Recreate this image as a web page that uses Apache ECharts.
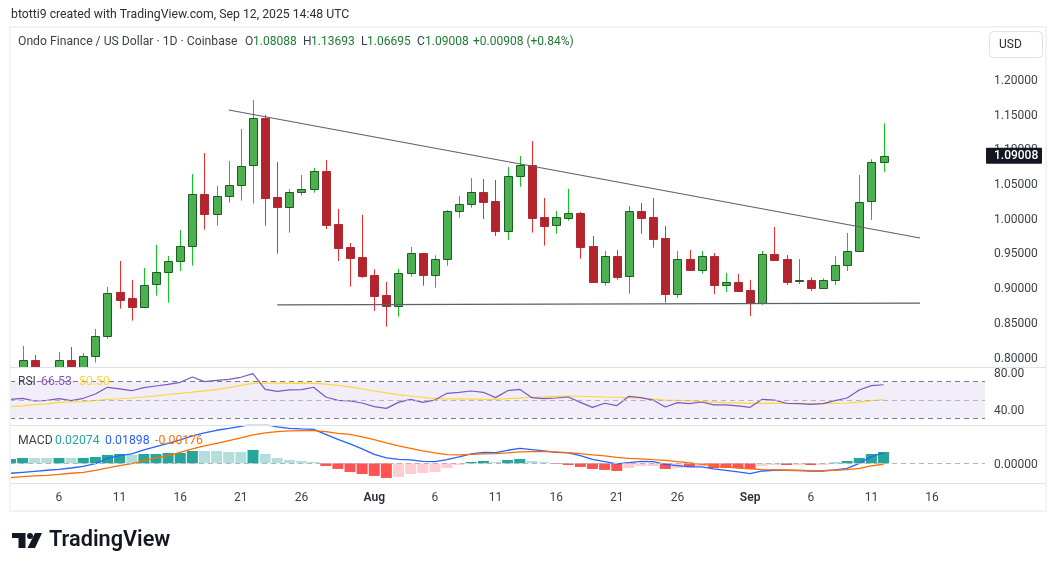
<!DOCTYPE html>
<html lang="en">
<head>
    <meta charset="UTF-8">
    <title>Ondo Finance / US Dollar</title>
    <script src="https://cdn.jsdelivr.net/npm/echarts@6/dist/echarts.min.js"></script>
    <style>
        html, body {margin: 0; padding: 0; background: #fff}
        #chart {width: 1057px; height: 571px}
    </style>
</head>
<body>
<div id="chart"></div>
<script>
    const FONT = 'Roboto, sans-serif'

    // daily candles from Jul 2: open, high, low, close
    const candles = [
        [0.760, 0.8044, 0.755, 0.775], [0.775, 0.8159, 0.770, 0.7952], [0.7952, 0.8029, 0.770, 0.775], [0.775, 0.785, 0.770, 0.780],
        [0.780, 0.8072, 0.770, 0.7952], [0.7952, 0.8144, 0.775, 0.780], [0.780, 0.8058, 0.775, 0.8010], [0.8010, 0.8404, 0.7919, 0.8308],
        [0.8308, 0.9009, 0.8265, 0.8918], [0.8932, 0.9384, 0.8697, 0.8827], [0.8846, 0.9110, 0.8524, 0.8726], [0.8726, 0.9283, 0.8711, 0.9033],
        [0.9048, 0.9615, 0.8884, 0.9221], [0.9221, 0.9456, 0.8784, 0.9379], [0.9379, 0.9831, 0.9240, 0.9596], [0.9596, 1.0638, 0.9317, 1.0345],
        [1.0345, 1.0941, 0.9836, 1.0066], [1.0066, 1.0465, 0.9893, 1.0316], [1.0316, 1.0826, 1.0225, 1.0475], [1.0475, 1.1287, 1.0254, 1.0749],
        [1.0763, 1.1705, 1.0211, 1.1441], [1.1445, 1.1489, 0.9893, 1.0297], [1.0302, 1.0811, 0.9490, 1.0167], [1.0167, 1.0422, 0.9793, 1.0374],
        [1.0374, 1.0624, 1.0326, 1.0417], [1.0417, 1.0725, 1.0369, 1.0677], [1.0677, 1.0840, 0.9845, 0.9908], [0.9912, 1.0134, 0.9384, 0.9576],
        [0.9581, 0.9643, 0.9014, 0.9432], [0.9437, 1.0047, 0.9143, 0.9172],
        // Aug
        [0.9177, 0.9264, 0.8663, 0.8884], [0.8889, 0.9081, 0.8437, 0.8740], [0.8740, 0.9268, 0.8581, 0.9206], [0.9206, 0.9586, 0.9158, 0.9494],
        [0.9494, 0.9494, 0.9028, 0.9187], [0.9187, 0.9465, 0.8999, 0.9408], [0.9408, 1.0119, 0.9316, 1.0100], [1.0100, 1.0321, 1.0008, 1.0201],
        [1.0201, 1.0580, 1.0152, 1.0374], [1.0374, 1.0566, 0.9989, 1.0239], [1.0244, 1.0551, 0.9744, 0.9821], [0.9821, 1.0739, 0.9686, 1.0604],
        [1.0604, 1.0897, 1.0455, 1.0763], [1.0763, 1.1113, 0.9792, 1.0008], [1.0013, 1.0292, 0.9605, 0.9893], [0.9898, 1.0104, 0.9778, 1.0013],
        [1.0008, 1.0422, 0.9965, 1.0071], [1.0071, 1.0090, 0.9417, 0.9590], [0.9595, 0.9744, 0.9071, 0.9086], [0.9086, 0.9528, 0.9028, 0.9451],
        [0.9451, 0.9542, 0.9115, 0.9158], [0.9163, 1.0176, 0.8913, 1.0100], [1.0100, 1.0220, 0.9778, 1.0008], [1.0013, 1.0292, 0.9576, 0.9706],
        [0.9710, 0.9888, 0.8783, 0.8913], [0.8913, 0.9528, 0.8855, 0.9407], [0.9407, 0.9542, 0.9239, 0.9259], [0.9259, 0.9528, 0.9201, 0.9451],
        [0.9451, 0.9499, 0.8908, 0.9042], [0.9042, 0.9210, 0.8937, 0.9076], [0.9076, 0.9196, 0.8956, 0.8956],
        // Sep
        [0.8961, 0.9110, 0.8591, 0.8778], [0.8778, 0.9528, 0.8749, 0.9480], [0.9480, 0.9874, 0.9383, 0.9403], [0.9407, 0.9470, 0.9038, 0.9086],
        [0.9100, 0.9412, 0.9052, 0.9110], [0.9105, 0.9148, 0.8951, 0.8999], [0.8999, 0.9134, 0.8999, 0.9105], [0.9105, 0.9455, 0.9038, 0.9321],
        [0.9321, 0.9787, 0.9239, 0.9523], [0.9523, 1.0623, 0.9523, 1.0229], [1.0243, 1.0849, 0.9974, 1.0806], [1.08088, 1.13693, 1.06695, 1.09008]
    ]

    const rsi = [
        50.8, 51.9, 49, 49.7, 51.5, 49.3, 51.9, 56.6, 63.8, 62, 60.1, 63.4, 65.2, 67, 69.2, 74.9, 69.9, 71.3, 72.4, 74.6,
        78.5, 61.6, 59.4, 60.9, 61.2, 63.8, 53.3, 49.7, 49, 46.8,
        42.9, 41, 47.5, 50.8, 47.5, 50, 57.3, 58.4, 59.8, 58.4, 52.6, 60.1, 61.6, 52.6, 51.5, 52.2, 53.3, 47.5, 42.1, 46.5,
        43.9, 54, 52.6, 50, 42.5, 47.2, 46.1, 47.9, 44.7, 44.7, 43.6,
        42.1, 50.8, 50, 46.5, 46.1, 45.4, 46.1, 49.3, 52.2, 60.9, 65.6, 66.53
    ]
    const rsiMa = [
        42.9, 43.7, 45, 45.9, 47.5, 47.9, 48.3, 49.3, 50.8, 51.4, 52.2, 53.3, 54.6, 56, 57.3, 58.6, 60, 61.2, 63.5, 65.8,
        68.1, 68.2, 68.2, 68.1, 68.2, 68, 67.2, 66, 64.3, 62,
        59.8, 57.8, 55.5, 54.4, 53, 51.5, 51.2, 51.2, 51, 50.8, 50.8, 51.5, 52, 53, 53.4, 54, 54.4, 54.1, 53.8, 53.3,
        53, 52.6, 52.2, 51, 49.9, 49.7, 49, 48.3, 47.8, 47.2, 46.9,
        46.5, 46.5, 46.5, 46.5, 46.4, 46.2, 46.1, 46.3, 46.8, 47.8, 49.3, 50.5
    ]

    const macd = [
        -0.0183, -0.0165, -0.0147, -0.0128, -0.011, -0.0086, -0.0055, -0.0006, 0.0092, 0.0141,
        0.0171, 0.0245, 0.0306, 0.0367, 0.0428, 0.0502, 0.0557, 0.0606, 0.0642, 0.0679,
        0.0722, 0.0716, 0.0667, 0.0642, 0.063, 0.0624, 0.0532, 0.044, 0.0355, 0.0263,
        0.0165, 0.0098, 0.0073, 0.0061, 0.0037, 0.0031, 0.0067, 0.0116, 0.0171, 0.0202,
        0.0196, 0.0239, 0.0275, 0.0251, 0.0226, 0.0202, 0.019, 0.0141, 0.0073, 0.0031,
        -0.0012, 0.0012, 0.0037, 0.0031, -0.0018, -0.0043, -0.0067, -0.0067, -0.0104, -0.0128, -0.0159,
        -0.019, -0.0141, -0.0128, -0.0128, -0.0135, -0.0141, -0.0141, -0.0122, -0.0092, 0, 0.0122, 0.01898
    ]
    const signal = [
        -0.0263, -0.0245, -0.0232, -0.022, -0.0202, -0.0183, -0.0165, -0.0128, -0.0086, -0.0043,
        -0.0006, 0.0049, 0.0098, 0.0141, 0.0202, 0.0263, 0.0318, 0.0367, 0.0416, 0.0465,
        0.052, 0.0557, 0.0581, 0.0593, 0.0599, 0.0599, 0.0581, 0.055, 0.0532, 0.0483,
        0.0434, 0.0373, 0.0318, 0.0275, 0.0226, 0.019, 0.0159, 0.0153, 0.0165, 0.0171,
        0.0177, 0.019, 0.0208, 0.0214, 0.0214, 0.0208, 0.0196, 0.0177, 0.0153, 0.0135,
        0.011, 0.0092, 0.008, 0.0067, 0.0055, 0.0031, 0.0006, -0.0018, -0.0043, -0.0067, -0.0086,
        -0.0104, -0.0116, -0.0122, -0.0128, -0.0128, -0.0135, -0.0135, -0.0128, -0.0116, -0.0092, -0.0049, -0.00176
    ]
    // histogram value + colour key
    const hist = [
        [0.008, 'd'], [0.0098, 'd'], [0.0098, 'l'], [0.0098, 'l'], [0.0098, 'd'], [0.0098, 'l'], [0.0098, 'd'], [0.0116, 'd'], [0.0153, 'd'], [0.0171, 'd'],
        [0.0153, 'l'], [0.0171, 'd'], [0.0171, 'd'], [0.019, 'd'], [0.019, 'd'], [0.0226, 'd'], [0.0226, 'l'], [0.0226, 'l'], [0.0208, 'l'], [0.0208, 'l'],
        [0.0245, 'd'], [0.0171, 'l'], [0.0098, 'l'], [0.0061, 'l'], [0.0043, 'l'], [0.0024, 'l'], [-0.0049, 'r'], [-0.0104, 'r'], [-0.0159, 'r'], [-0.0196, 'r'],
        [-0.0232, 'r'], [-0.0269, 'r'], [-0.0251, 'p'], [-0.0196, 'p'], [-0.0177, 'p'], [-0.0159, 'p'], [-0.0086, 'p'], [-0.0031, 'p'], [0.0024, 'd'], [0.0043, 'd'],
        [0.0024, 'l'], [0.0061, 'd'], [0.008, 'd'], [0.0043, 'l'], [0.0024, 'l'], [-0.0012, 'r'], [-0.0031, 'r'], [-0.0067, 'r'], [-0.0104, 'r'], [-0.0122, 'r'],
        [-0.0141, 'r'], [-0.0086, 'p'], [-0.0049, 'p'], [-0.0049, 'p'], [-0.0104, 'r'], [-0.0086, 'p'], [-0.0067, 'r'], [-0.0049, 'p'], [-0.0086, 'r'], [-0.0086, 'r'], [-0.0086, 'r'],
        [-0.0104, 'r'], [-0.0049, 'p'], [-0.0031, 'p'], [-0.0031, 'r'], [-0.0031, 'p'], [-0.0031, 'r'], [-0.0031, 'p'], [0.0012, 'd'], [0.0043, 'd'], [0.0098, 'd'], [0.0171, 'd'], [0.02074, 'd']
    ]
    const histColors = {d: '#26a69a', l: '#b2dfdb', r: '#ff5252', p: '#ffcdd2'}

    // day index (0 = Jul 2) => time axis label
    const dayLabels = {4: '6', 9: '11', 14: '16', 19: '21', 24: '26', 30: '{b|Aug}', 35: '6', 40: '11', 45: '16', 50: '21', 55: '26', 61: '{b|Sep}', 66: '6', 71: '11', 76: '16'}

    // hand drawn trend lines [day index, price]
    const trendTop = [[18.0, 1.156], [75.01, 0.9715]]
    const trendBottom = [[22.0, 0.875], [75.01, 0.8778]]

    const xMin = -0.04
    const xMax = 80.37
    const withDay = arr => arr.map((v, i) => [i, v])

    function xAxis(index, showLabels) {
        return {
            type: 'value',
            gridIndex: index,
            min: xMin,
            max: xMax,
            splitLine: {show: false},
            axisLine: {show: false},
            axisTick: {show: false},
            axisLabel: showLabels ? {
                customValues: Object.keys(dayLabels).map(Number),
                formatter: v => dayLabels[v],
                color: '#3c3f48',
                fontFamily: FONT,
                fontSize: 12,
                margin: 9,
                rich: {b: {fontFamily: FONT, fontSize: 12, fontWeight: 600, color: '#2a2e39'}}
            } : {show: false}
        }
    }

    function yAxis(index, min, max, ticks, digits) {
        return {
            type: 'value',
            gridIndex: index,
            position: 'right',
            min: min,
            max: max,
            scale: true,
            splitLine: {show: false},
            axisLine: {show: true, lineStyle: {color: '#d6d7e0'}},
            axisTick: {show: false},
            axisLabel: {
                customValues: ticks,
                // rich token, plain labels ignore the padding that moves them down a little
                formatter: v => '{p|' + v.toFixed(digits) + '}',
                margin: 9,
                rich: {p: {color: '#3c3f48', fontFamily: FONT, fontSize: 12, padding: [3, 0, 0, 0]}}
            }
        }
    }

    // candles as custom series: wick and body take different colours, and half hidden ones get clipped
    function renderCandle(params, api) {
        let open = api.value(1), close = api.value(4)
        let up = close >= open
        let x = Math.round(api.coord([api.value(0), open])[0])
        let yHigh = api.coord([0, api.value(2)])[1]
        let yLow = api.coord([0, api.value(3)])[1]
        let yTop = Math.round(api.coord([0, Math.max(open, close)])[1])
        let yBottom = Math.round(api.coord([0, Math.min(open, close)])[1])
        return {
            type: 'group',
            children: [{
                type: 'line',
                shape: {x1: x + 0.5, y1: yHigh, x2: x + 0.5, y2: yLow},
                style: {stroke: up ? '#0fc71f' : '#ee2a2a', lineWidth: 1}
            }, {
                type: 'rect',
                shape: {x: x - 3.5, y: yTop + 0.5, width: 8, height: Math.max(yBottom - yTop, 1)},
                style: {fill: up ? '#4caf50' : '#b2252f', stroke: up ? '#1b5e20' : '#b22833', lineWidth: 1}
            }]
        }
    }

    let myChart = echarts.init(document.getElementById('chart'), null, {renderer: 'canvas'})

    let option = {
        animation: false,
        backgroundColor: '#fff',
        grid: [
            {left: 10, right: 72, top: 28, height: 339},
            {left: 10, right: 72, top: 367.5, height: 57.8},
            {left: 10, right: 72, top: 425.3, height: 58}
        ],
        xAxis: [xAxis(0, false), xAxis(1, false), xAxis(2, true)],
        yAxis: [
            yAxis(0, 0.78559, 1.27423, [0.8, 0.85, 0.9, 0.95, 1.0, 1.05, 1.1, 1.15, 1.2], 5),
            yAxis(1, 22.7, 85.19, [40, 80], 2),
            yAxis(2, -0.0367, 0.0697, [0], 5)
        ],
        series: [
            {
                name: 'ONDOUSD',
                type: 'custom',
                xAxisIndex: 0,
                yAxisIndex: 0,
                clip: true,
                renderItem: renderCandle,
                encode: {x: 0, y: [1, 2, 3, 4]},
                data: candles.map((c, i) => [i].concat(c))
            },
            {type: 'line', name: 'trend top', xAxisIndex: 0, yAxisIndex: 0, data: trendTop, symbol: 'none', z: 4, lineStyle: {color: '#5d606b', width: 1.2}},
            {type: 'line', name: 'trend bottom', xAxisIndex: 0, yAxisIndex: 0, data: trendBottom, symbol: 'none', z: 4, lineStyle: {color: '#5d606b', width: 1.2}},
            {
                type: 'line',
                name: 'RSI',
                xAxisIndex: 1,
                yAxisIndex: 1,
                data: withDay(rsi),
                symbol: 'none',
                z: 4,
                lineStyle: {color: '#7e57c2', width: 1.2},
                markArea: {silent: true, itemStyle: {color: 'rgba(126,87,194,0.1)'}, data: [[{yAxis: 70}, {yAxis: 30}]]},
                markLine: {
                    silent: true,
                    symbol: 'none',
                    label: {show: false},
                    data: [
                        {yAxis: 70, lineStyle: {color: '#787b86', type: [5, 4], width: 1}},
                        {yAxis: 50, lineStyle: {color: '#b2b5be', type: [5, 4], width: 1}},
                        {yAxis: 30, lineStyle: {color: '#787b86', type: [5, 4], width: 1}}
                    ]
                }
            },
            {type: 'line', name: 'RSI MA', xAxisIndex: 1, yAxisIndex: 1, data: withDay(rsiMa), symbol: 'none', z: 3, lineStyle: {color: '#fdd835', width: 1.2}},
            {
                type: 'bar',
                name: 'Histogram',
                xAxisIndex: 2,
                yAxisIndex: 2,
                barWidth: 11,
                clip: true,
                data: hist.map((h, i) => ({value: [i, h[0]], itemStyle: {color: histColors[h[1]]}})),
                markLine: {
                    silent: true,
                    symbol: 'none',
                    label: {show: false},
                    data: [{yAxis: 0, lineStyle: {color: '#b2b5be', type: [5, 4], width: 1}}]
                }
            },
            {type: 'line', name: 'MACD', xAxisIndex: 2, yAxisIndex: 2, data: withDay(macd), symbol: 'none', z: 4, lineStyle: {color: '#2962ff', width: 1.3}},
            {type: 'line', name: 'Signal', xAxisIndex: 2, yAxisIndex: 2, data: withDay(signal), symbol: 'none', z: 4, lineStyle: {color: '#ff6d00', width: 1.3}}
        ]
    }
    myChart.setOption(option)

    // header, legends, frame and logo
    function text(x, y, str, fill, size, weight) {
        return {
            type: 'text',
            z: 20,
            style: {x: x, y: y, text: str, fill: fill, font: (weight || 400) + ' ' + (size || 12) + 'px ' + FONT, textVerticalAlign: 'middle'}
        }
    }
    function hline(y, color) {
        return {type: 'line', z: 10, shape: {x1: 10, y1: y, x2: 1046, y2: y}, style: {stroke: color || '#e0e1ea', lineWidth: 1}}
    }

    const GREEN = '#1e7b34'
    let lastY = myChart.convertToPixel({yAxisIndex: 0}, 1.09008)
    myChart.setOption({
        graphic: [
            // the first histogram bar sticks out left of the pane
            {type: 'rect', z: 8, shape: {x: 0, y: 430, width: 10, height: 50}, style: {fill: '#fff'}},
            {type: 'rect', z: 9, shape: {x: 10, y: 27, width: 1036, height: 484}, style: {fill: 'none', stroke: '#f2f3f6', lineWidth: 2}},
            hline(367.5), hline(425.5), hline(483.5),
            text(11, 15, 'btotti9 created with TradingView.com, Sep 12, 2025 14:48 UTC', '#2a2e39', 12.25),
            text(18, 42, 'Ondo Finance / US Dollar · 1D · Coinbase', '#3c3f48', 12.2),
            text(245, 42, 'O', '#3c3f48'), text(253, 42, '1.08088', GREEN),
            text(303, 42, 'H', '#3c3f48'), text(311, 42, '1.13693', GREEN),
            text(361, 42, 'L', '#3c3f48'), text(367, 42, '1.06695', GREEN),
            text(417, 42, 'C', '#3c3f48'), text(425, 42, '1.09008', GREEN),
            text(473, 42, '+0.00908 (+0.84%)', GREEN),
            text(18, 382, 'RSI', '#3c3f48'), text(41, 382, '66.53', '#7e57c2', 12.25), text(79, 382, '50.50', '#fdd835', 12.25),
            text(18, 441, 'MACD', '#3c3f48', 12.25), text(55, 441, '0.02074', '#26a69a', 12.25), text(105, 441, '0.01898', '#2962ff', 12.25), text(155, 441, '-0.00176', '#ff6d00', 12.25),
            // USD button
            {type: 'rect', z: 20, shape: {x: 989.5, y: 31.5, width: 53, height: 26, r: 4}, style: {fill: '#fff', stroke: '#e0e1ea', lineWidth: 1}},
            text(999, 44.5, 'USD', '#2a2e39'),
            // last price tag
            {type: 'rect', z: 20, shape: {x: 986, y: lastY - 8, width: 56, height: 16, r: 1}, style: {fill: '#131722'}},
            text(994, lastY + 0.5, '1.09008', '#fff', 12, 500),
            // logo
            {type: 'polygon', z: 20, shape: {points: [[12, 533], [25.5, 533], [25.5, 548], [18.5, 548], [18.5, 538], [12, 538]]}, style: {fill: '#131722'}},
            {type: 'circle', z: 20, shape: {cx: 30, cy: 536, r: 3}, style: {fill: '#131722'}},
            {type: 'polygon', z: 20, shape: {points: [[35, 533], [42, 533], [35, 548], [27.5, 548]]}, style: {fill: '#131722'}},
            text(49, 541, 'TradingView', '#131722', 21.7, 600)
        ]
    })
</script>
</body>
</html>
